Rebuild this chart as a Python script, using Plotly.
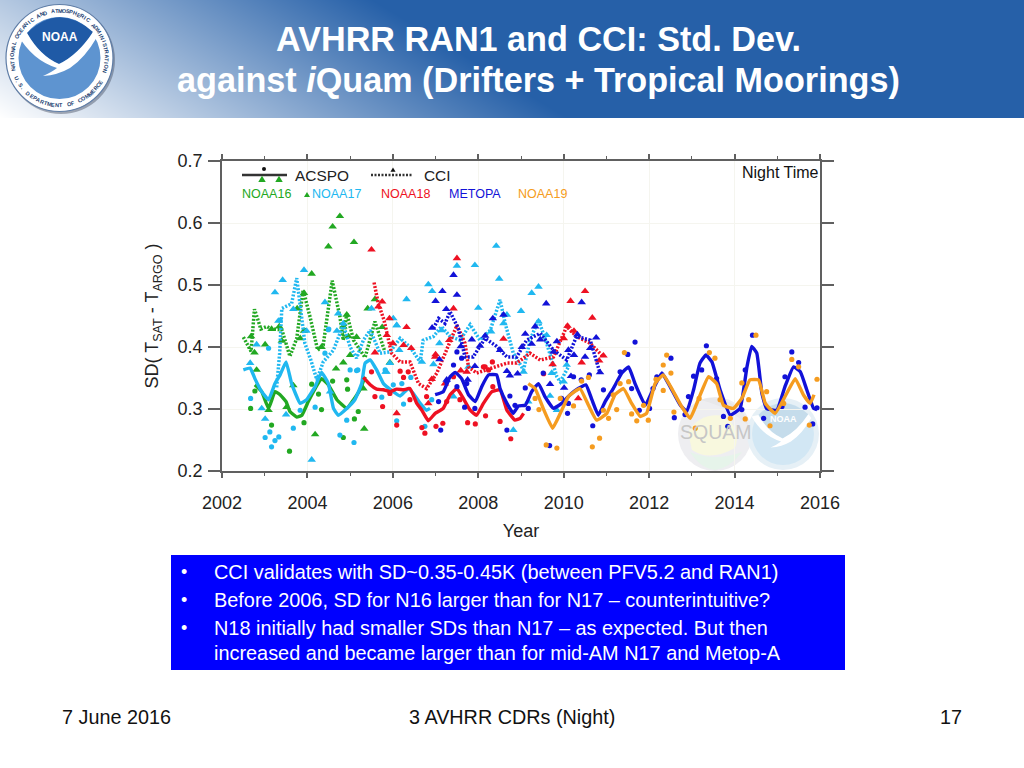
import math
import re
import plotly.graph_objects as go

# ---------- data ----------
N16_LINE_X = [2002.77,2002.93,2003.09,2003.24,2003.36,2003.50,2003.59,2003.75,2003.87,2004.02,2004.18,2004.33,2004.49,2004.69,2004.92,2005.08,2005.23,2005.35]
N16_LINE_Y = [.339,.328,.301,.328,.323,.312,.296,.287,.290,.312,.333,.349,.339,.315,.301,.315,.331,.352]
N17_LINE_X = [2002.50,2002.66,2002.77,2002.93,2003.09,2003.24,2003.36,2003.50,2003.63,2003.83,2003.98,2004.18,2004.33,2004.49,2004.61,2004.72,2004.92,2005.11,2005.27,2005.35,2005.47,2005.62,2005.78,2005.97,2006.17,2006.36,2006.48,2006.64,2006.79,2006.87]
N17_LINE_Y = [.363,.366,.349,.328,.315,.341,.355,.376,.341,.309,.315,.336,.359,.341,.301,.290,.301,.315,.341,.374,.379,.363,.341,.330,.321,.333,.325,.309,.298,.301]
N18_LINE_X = [2005.31,2005.47,2005.62,2005.78,2005.93,2006.09,2006.25,2006.40,2006.56,2006.68,2006.83,2006.99,2007.18,2007.34,2007.50,2007.65,2007.81,2007.96,2008.12,2008.32,2008.51,2008.67,2008.86,2008.98,2009.06]
N18_LINE_Y = [.351,.339,.332,.331,.328,.332,.331,.333,.309,.298,.281,.293,.301,.323,.333,.317,.298,.290,.309,.328,.331,.298,.282,.285,.293]
MTA_LINE_X = [2006.99,2007.18,2007.34,2007.46,2007.61,2007.77,2007.93,2008.08,2008.24,2008.43,2008.51,2008.67,2008.82,2008.94,2009.10,2009.25,2009.41,2009.56,2009.76,2009.95,2010.15,2010.34,2010.52,2010.66,2010.81,2010.97,2011.16,2011.36,2011.52,2011.67,2011.91,2012.10,2012.30,2012.49,2012.73,2012.88,2013.04,2013.19,2013.33,2013.47,2013.66,2013.90,2014.13,2014.29,2014.40,2014.52,2014.64,2014.75,2014.99,2015.18,2015.38,2015.54,2015.69,2015.85,2015.93]
MTA_LINE_Y = [.323,.328,.352,.359,.349,.323,.312,.336,.355,.355,.333,.309,.293,.305,.306,.328,.341,.320,.301,.309,.323,.333,.339,.315,.290,.312,.333,.358,.368,.341,.306,.333,.358,.336,.306,.296,.331,.374,.387,.376,.331,.290,.301,.368,.401,.390,.325,.301,.298,.336,.368,.360,.331,.301,.299]
N19_LINE_X = [2009.17,2009.33,2009.52,2009.74,2009.92,2010.11,2010.38,2010.58,2010.77,2011.01,2011.20,2011.40,2011.59,2011.79,2011.94,2012.14,2012.33,2012.53,2012.76,2012.96,2013.15,2013.39,2013.58,2013.74,2013.97,2014.17,2014.36,2014.56,2014.72,2014.95,2015.22,2015.42,2015.61,2015.77,2015.86]
N19_LINE_Y = [.341,.333,.301,.269,.293,.320,.333,.306,.282,.293,.323,.333,.309,.288,.293,.341,.355,.333,.304,.285,.315,.352,.341,.306,.301,.317,.347,.347,.309,.293,.325,.349,.323,.309,.323]

N16_CCI_X = [2002.50,2002.68,2002.76,2002.91,2003.05,2003.16,2003.40,2003.59,2003.75,2003.90,2004.06,2004.24,2004.37,2004.58,2004.76,2004.84,2004.92,2005.08,2005.35,2005.58,2005.80]
N16_CCI_Y = [.416,.393,.461,.429,.433,.429,.428,.385,.414,.492,.449,.395,.403,.507,.449,.411,.454,.411,.383,.441,.395]
N17_CCI_X = [2003.28,2003.35,2003.40,2003.63,2003.75,2003.82,2003.94,2004.08,2004.22,2004.37,2004.61,2004.84,2005.00,2005.15,2005.31,2005.47,2005.70,2005.93,2006.17,2006.40,2006.64,2006.71,2006.95,2007.14,2007.34,2007.57,2007.81,2008.04,2008.28,2008.51,2008.63,2008.82,2009.06,2009.21,2009.41,2009.60,2009.84,2009.92,2010.11]
N17_CCI_Y = [.335,.390,.462,.470,.511,.470,.406,.379,.347,.376,.395,.436,.400,.382,.411,.427,.390,.392,.414,.400,.376,.411,.417,.433,.417,.411,.436,.411,.427,.476,.438,.390,.363,.411,.444,.406,.352,.344,.368]
N18_CCI_X = [2005.56,2005.66,2005.79,2005.89,2005.97,2006.17,2006.40,2006.60,2006.79,2007.03,2007.34,2007.50,2007.69,2007.77,2007.96,2008.20,2008.43,2008.67,2008.90,2009.21,2009.45,2009.76,2010.07,2010.30,2010.62,2010.93]
N18_CCI_Y = [.504,.470,.444,.417,.390,.376,.376,.341,.333,.358,.411,.435,.406,.368,.358,.363,.368,.374,.374,.390,.379,.384,.433,.417,.406,.384]
MTA_CCI_X = [2006.95,2007.07,2007.22,2007.34,2007.53,2007.69,2007.88,2008.16,2008.43,2008.67,2008.90,2009.13,2009.45,2009.76,2010.07,2010.30,2010.62,2010.85]
MTA_CCI_Y = [.430,.446,.438,.457,.430,.384,.384,.414,.401,.384,.384,.411,.422,.395,.379,.417,.411,.358]

N16_TRI_X = [2004.49,2004.59,2004.76,2005.09,2004.10,2003.92,2003.76,2003.40,2003.16,2003.34,2003.01,2002.68,2005.41,2005.58,2005.75,2003.83,2003.92,2004.92,2004.84,2004.96,2005.15,2004.33,2002.76,2002.81,2003.09,2003.51,2003.67,2004.18,2004.67,2004.84,2005.33,2005.93,2005.00,2005.31]
N16_TRI_Y = [.562,.594,.611,.569,.518,.487,.462,.410,.429,.433,.404,.417,.462,.477,.432,.414,.426,.452,.433,.417,.416,.400,.391,.363,.298,.303,.338,.259,.365,.375,.268,.375,.387,.333]
N16_DOT_X = [2002.67,2002.77,2003.16,2003.58,2003.92,2004.33,2004.10,2004.26,2004.59,2004.92,2004.94,2005.10,2004.84,2005.19,2003.94]
N16_DOT_Y = [.301,.329,.274,.232,.278,.299,.340,.324,.345,.347,.332,.284,.254,.296,.427]
N17_TRI_X = [2003.92,2003.42,2003.24,2004.41,2004.72,2005.50,2006.32,2006.01,2006.09,2003.32,2003.67,2004.69,2004.84,2002.81,2003.98,2008.42,2007.92,2007.50,2008.49,2006.83,2006.92,2008.00,2009.41,2009.25,2009.00,2008.67,2008.59,2006.09,2008.30,2007.14,2007.09,2006.15,2006.68,2006.95,2005.93,2007.77,2009.06,2005.85,2009.60,2009.41,2010.07,2009.72,2010.00,2004.10,2003.01,2003.50,2004.53,2002.66,2002.93,2007.42,2005.83,2008.82,2009.68,2009.17,2009.84]
N17_TRI_Y = [.524,.508,.488,.472,.454,.462,.477,.446,.435,.442,.461,.426,.438,.404,.426,.563,.532,.531,.510,.501,.490,.463,.497,.487,.458,.452,.438,.435,.425,.427,.406,.395,.376,.372,.374,.368,.360,.360,.419,.441,.371,.358,.344,.218,.284,.291,.328,.374,.301,.320,.360,.266,.321,.312,.298]
N17_DOT_X = [2002.67,2003.09,2003.16,2003.01,2003.12,2003.33,2003.24,2003.67,2004.18,2004.76,2004.92,2005.09,2004.49,2004.41,2005.00,2005.15,2003.83,2006.25,2006.09,2006.42,2006.75,2006.91,2005.74,2005.82,2006.21,2004.50,2003.36,2005.18,2006.01]
N17_DOT_Y = [.317,.398,.239,.254,.263,.255,.249,.269,.303,.258,.282,.246,.428,.390,.363,.362,.298,.308,.281,.351,.272,.315,.319,.363,.341,.429,.443,.363,.339]
N18_TRI_X = [2005.50,2007.50,2005.75,2005.92,2006.32,2007.42,2010.50,2010.16,2010.67,2010.09,2010.24,2008.59,2007.32,2006.43,2006.25,2006.00,2005.58,2007.00,2010.93,2010.42,2009.74,2010.83,2010.00,2007.59,2006.91,2005.66,2005.86,2006.09,2006.83,2006.99,2007.22,2007.73,2010.34]
N18_TRI_Y = [.557,.543,.473,.446,.432,.462,.490,.474,.447,.434,.426,.413,.411,.398,.403,.406,.391,.388,.386,.375,.372,.378,.414,.362,.348,.465,.419,.293,.309,.384,.341,.360,.317]
N18_DOT_X = [2005.50,2005.76,2005.93,2006.17,2006.09,2006.40,2006.68,2006.75,2007.01,2007.17,2007.26,2006.36,2006.79,2007.75,2007.93,2008.17,2008.51,2008.34,2008.76,2007.42,2005.58,2007.57,2008.12,2008.24,2006.25,2008.16,2008.33,2009.53]
N18_DOT_Y = [.360,.304,.325,.361,.274,.315,.270,.261,.272,.277,.312,.360,.320,.278,.276,.289,.280,.336,.252,.352,.320,.315,.368,.363,.351,.368,.376,.357]
MTA_TRI_X = [2007.42,2007.50,2007.16,2007.00,2007.25,2009.59,2010.42,2008.34,2008.59,2006.92,2009.33,2009.10,2008.16,2007.85,2008.04,2007.59,2009.84,2010.11,2010.32,2010.76,2009.02,2008.51,2009.25,2010.50,2010.24,2009.45,2009.76,2007.92,2008.67,2008.74,2008.92,2010.17,2009.68,2010.01,2010.85,2010.62,2007.09,2007.26,2007.75]
MTA_TRI_Y = [.516,.484,.490,.474,.461,.470,.472,.446,.452,.431,.433,.421,.418,.412,.402,.401,.409,.395,.420,.415,.400,.395,.405,.384,.387,.412,.392,.369,.361,.354,.357,.353,.340,.334,.359,.398,.380,.347,.347]
MTA_DOT_X = [2007.07,2007.12,2007.50,2007.68,2007.92,2007.73,2008.67,2008.74,2007.42,2007.50,2007.61,2007.26,2011.67,2011.50,2012.51,2013.34,2014.42,2015.34,2015.50,2009.10,2009.67,2009.17,2010.09,2010.23,2010.41,2010.60,2010.68,2010.93,2011.32,2011.59,2012.01,2011.77,2012.18,2012.09,2012.59,2012.84,2013.04,2012.92,2013.23,2013.58,2013.74,2013.84,2014.25,2014.68,2015.11,2015.18,2015.65,2015.93,2015.83,2014.17,2009.52,2010.11,2008.86,2009.95]
MTA_DOT_Y = [.312,.266,.336,.303,.301,.341,.266,.321,.371,.392,.382,.344,.408,.388,.382,.402,.419,.392,.375,.334,.241,.301,.293,.352,.347,.355,.273,.331,.360,.333,.301,.298,.352,.333,.286,.291,.353,.320,.363,.349,.288,.272,.363,.285,.304,.352,.303,.302,.276,.299,.358,.309,.306,.317]
N19_DOT_X = [2011.42,2012.41,2012.33,2012.51,2012.16,2012.33,2013.41,2014.50,2015.34,2015.93,2010.84,2010.67,2009.59,2009.84,2009.42,2009.33,2009.92,2010.23,2010.42,2010.58,2010.93,2011.24,2011.52,2011.59,2011.71,2011.98,2011.87,2012.58,2013.08,2013.17,2013.54,2013.90,2014.25,2014.33,2014.17,2014.75,2014.83,2015.15,2015.50,2015.75,2013.66,2011.16,2011.32,2011.05]
N19_DOT_Y = [.391,.387,.371,.358,.348,.330,.391,.419,.380,.348,.253,.239,.242,.237,.299,.317,.317,.305,.345,.351,.298,.299,.344,.292,.281,.282,.306,.295,.269,.317,.382,.285,.284,.315,.342,.328,.273,.309,.368,.274,.315,.323,.341,.285]

TITLE_LINES = ["<b>AVHRR RAN1 and CCI: Std. Dev.</b>", "<b>against <i>i</i>Quam (Drifters + Tropical Moorings)</b>"]
BULLETS = ["CCI validates with SD~0.35-0.45K (between PFV5.2 and RAN1)",
           "Before 2006, SD for N16 larger than for N17 – counterintuitive?",
           "N18 initially had smaller SDs than N17 – as expected. But then",
           "increased and became larger than for mid-AM N17 and Metop-A"]
LEGEND_NAMES = ["NOAA16", "NOAA17", "NOAA18", "METOPA", "NOAA19"]

GREEN, CYAN, RED, BLUE, ORANGE = "#22a822", "#20b8f0", "#ee1122", "#1212d8", "#f59c20"
FONT = "Liberation Sans"
W, H = 1024, 768

# ---------- helpers: page pixels to paper fractions ----------
def fx(x): return x / W
def fy(y): return 1 - y / H

def pth(s, cx=0, cy=0, k=1.0, ox=0, oy=0):
    nums = iter(range(10**6))
    def rep(m):
        i = next(nums)
        v = float(m.group())
        if i % 2 == 0:
            return f"{fx((v - ox) * k + cx):.5f}"
        return f"{fy((v - oy) * k + cy):.5f}"
    return re.sub(r"-?\d+\.?\d*", rep, s)

shapes, notes = [], []

def path(s, fill, layer="above", opacity=1, line=None, **kw):
    shapes.append(dict(type="path", xref="paper", yref="paper", path=pth(s, **kw), fillcolor=fill,
                       line=dict(width=0 if line is None else 1, color=line or fill), layer=layer, opacity=opacity))

def circ(cx, cy, r, fill, layer="above", line=None, lw=1, opacity=1):
    shapes.append(dict(type="circle", xref="paper", yref="paper", x0=fx(cx - r), x1=fx(cx + r),
                       y0=fy(cy + r), y1=fy(cy - r), fillcolor=fill, layer=layer, opacity=opacity,
                       line=dict(width=lw if line else 0, color=line or fill)))

def rect(x0, y0, x1, y1, fill, layer="below"):
    shapes.append(dict(type="rect", xref="paper", yref="paper", x0=fx(x0), x1=fx(x1), y0=fy(y1), y1=fy(y0),
                       fillcolor=fill, line=dict(width=0), layer=layer))

def note(t, x, y, size, color="#111111", anchor="left", angle=0):
    notes.append(dict(text=t, x=fx(x), y=fy(y), xref="paper", yref="paper", showarrow=False,
                      xanchor=anchor, yanchor="middle", textangle=angle, borderpad=0,
                      font=dict(family=FONT, size=size, color=color)))

# ---------- figure traces ----------
fig = go.Figure()

def solid(x, y, c, n):
    fig.add_trace(go.Scatter(x=x, y=y, mode="lines", name=n, showlegend=False,
                             line=dict(color=c, width=3.4, shape="spline", smoothing=0.35)))
def dotted(x, y, c, n):
    fig.add_trace(go.Scatter(x=x, y=y, mode="lines", name=n, showlegend=False,
                             line=dict(color=c, width=3.5, dash="2px,1.6px")))
def tris(x, y, c, n):
    fig.add_trace(go.Scatter(x=x, y=y, mode="markers", name=n, showlegend=False,
                             marker=dict(symbol="triangle-up", size=7.5, color=c)))
def dots(x, y, c, n):
    fig.add_trace(go.Scatter(x=x, y=y, mode="markers", name=n, showlegend=False,
                             marker=dict(symbol="circle", size=5.2, color=c)))

dots(N16_DOT_X, N16_DOT_Y, GREEN, "NOAA16 ACSPO obs"); tris(N16_TRI_X, N16_TRI_Y, GREEN, "NOAA16 CCI obs")
dotted(N16_CCI_X, N16_CCI_Y, GREEN, "NOAA16 CCI"); solid(N16_LINE_X, N16_LINE_Y, GREEN, "NOAA16 ACSPO")
dots(N17_DOT_X, N17_DOT_Y, CYAN, "NOAA17 ACSPO obs"); tris(N17_TRI_X, N17_TRI_Y, CYAN, "NOAA17 CCI obs")
dotted(N17_CCI_X, N17_CCI_Y, CYAN, "NOAA17 CCI"); solid(N17_LINE_X, N17_LINE_Y, CYAN, "NOAA17 ACSPO")
dots(N18_DOT_X, N18_DOT_Y, RED, "NOAA18 ACSPO obs"); tris(N18_TRI_X, N18_TRI_Y, RED, "NOAA18 CCI obs")
dotted(N18_CCI_X, N18_CCI_Y, RED, "NOAA18 CCI"); solid(N18_LINE_X, N18_LINE_Y, RED, "NOAA18 ACSPO")
dots(MTA_DOT_X, MTA_DOT_Y, BLUE, "METOPA ACSPO obs"); tris(MTA_TRI_X, MTA_TRI_Y, BLUE, "METOPA CCI obs")
dotted(MTA_CCI_X, MTA_CCI_Y, BLUE, "METOPA CCI"); solid(MTA_LINE_X, MTA_LINE_Y, BLUE, "METOPA ACSPO")
dots(N19_DOT_X, N19_DOT_Y, ORANGE, "NOAA19 ACSPO obs"); solid(N19_LINE_X, N19_LINE_Y, ORANGE, "NOAA19 ACSPO")

# header gradient (diagonal), a 2x2 smoothed heatmap on hidden page axes
fig.add_trace(go.Heatmap(x=[0, 1024], y=[0, 118], z=[[195, 1219], [0, 1024]], zmin=0, zmax=568, zsmooth="best",
                         colorscale=[[0, "#ffffff"], [1, "#2660a8"]], showscale=False, hoverinfo="skip",
                         xaxis="x2", yaxis="y2"))

# ---------- NOAA logo (header) ----------
DARK_PATH = "M 27 33 Q 59 2 93 32 Q 78 55 59 64 Q 40 56 27 33 Z"
BIRD_PATH = "M 18 35 L 27 33 Q 40 56 59 64 Q 78 55 93 32 L 97 37 Q 85 58 70 68 Q 58 75 43 76 Q 52 72 57 68 Q 32 60 18 35 Z"
circ(61, 60, 54, "rgba(70,80,100,0.45)")
circ(59.5, 58, 53.5, "#ffffff", line="#5f7da6", lw=1.2)
circ(59.5, 58, 41, "#5e94d0")
path(DARK_PATH, "#1f5aa6")
path(BIRD_PATH, "#ffffff")
note("<b>NOAA</b>", 59.5, 37, 12, "#ffffff", "center")

def ring(text, a0, a1, top=True, r=47.3, cx=59.5, cy=58):
    n = len(text)
    for i, ch in enumerate(text):
        if ch == " ":
            continue
        a = a0 + (a1 - a0) * i / (n - 1)
        x = cx + r * math.cos(math.radians(a))
        y = cy - r * math.sin(math.radians(a))
        note(f"<b>{ch}</b>", x, y, 5.5, "#1c3f73", "center", (90 - a) if top else (270 - a))

ring("NATIONAL OCEANIC AND ATMOSPHERIC ADMINISTRATION", 194, -16, True)
ring("U.S. DEPARTMENT OF COMMERCE", 205, 330, False)

# ---------- watermarks under the data ----------
circ(715, 434, 37, "#eeeef1", layer="below")
path("M 688 432 Q 700 412 725 416 Q 742 430 735 448 Q 710 462 692 450 Z", "#f8f8de", layer="below")
path("M 690 452 Q 715 462 742 452 Q 730 468 715 470 Q 700 468 690 452 Z", "#e6f4ea", layer="below")
path("M 700 400 Q 715 394 735 405 Q 745 412 748 425 Q 725 405 700 400 Z", "#e8e8ea", layer="below")
note("SQUAM", 716, 432, 19.5, "#c6c6c6", "center")
circ(783, 434, 36, "#e6f0f6", layer="below")
circ(783, 434, 31, "#d2e7f4", layer="below")
path(DARK_PATH, "#c5dceb", layer="below", cx=783, cy=434, k=31/41, ox=59.5, oy=58)
path(BIRD_PATH, "#ffffff", layer="below", cx=783, cy=434, k=31/41, ox=59.5, oy=58)
note("<b>NOAA</b>", 783, 419, 9, "#ffffff", "center")

# ---------- hand-built chart key ----------
TRI = "M 0 -3 L 3 2 L -3 2 Z"
def tri(x, y, c, k=1.0):
    path(TRI, c, cx=x, cy=y, k=k)
shapes.append(dict(type="line", xref="paper", yref="paper", x0=fx(242), x1=fx(287), y0=fy(175), y1=fy(175),
                   line=dict(color="#333333", width=2.5), layer="above"))
circ(264, 169, 2, "#111111")
tri(262, 179.5, GREEN, 1.25); tri(279, 179.5, GREEN, 1.25)
note("ACSPO", 294, 176, 15.4, "#222222")
shapes.append(dict(type="line", xref="paper", yref="paper", x0=fx(371), x1=fx(413), y0=fy(175), y1=fy(175),
                   line=dict(color="#333333", width=2.5, dash="2px,1.5px"), layer="above"))
tri(393, 170, "#111111", 0.85)
note("CCI", 423, 176, 15.4, "#222222")
for name, xp, c in zip(LEGEND_NAMES, [241, 311, 380, 448, 517], [GREEN, CYAN, RED, BLUE, ORANGE]):
    note(name, xp, 194.5, 12.5, c)
tri(307, 195, GREEN, 1.0)
note("Night Time", 741, 172, 16, "#111111")

# ---------- page text ----------
note(TITLE_LINES[0], 538, 39, 34.2, "#ffffff", "center")
note(TITLE_LINES[1], 538, 80, 34.2, "#ffffff", "center")
rect(171, 555, 845, 670, "#0000ff")
for yy, t in zip([572, 600, 628, 653], BULLETS):
    note(t, 213, yy, 19.9, "#ffffff")
for yy in [572, 600, 628]:
    note("•", 184, yy, 18, "#ffffff", "center")
note("7 June 2016", 61, 717, 19.8, "#111111")
note("3 AVHRR CDRs (Night)", 512, 717, 19.8, "#111111", "center")
note("17", 951, 717, 19.8, "#111111", "center")

AX = "#606060"
fig.update_layout(
    template="none",
    width=W, height=H, autosize=False, margin=dict(l=0, r=0, t=0, b=0, pad=0, autoexpand=False),
    paper_bgcolor="white", plot_bgcolor="rgba(0,0,0,0)", showlegend=False,
    shapes=shapes, annotations=notes, font=dict(family=FONT, color="#222222"),
    xaxis=dict(domain=[fx(222), fx(820)], range=[2002, 2016], tick0=2002, dtick=2, ticks="outside", ticklen=5,
               tickwidth=1.5, tickcolor=AX, showline=True, linecolor=AX, linewidth=1.5, mirror="allticks",
               gridcolor="#f5f5ef", gridwidth=1, zeroline=False, ticklabelstandoff=10, automargin=False,
               tickfont=dict(size=18, color="#222222", family=FONT),
               minor=dict(dtick=1, ticks="outside", ticklen=3, tickcolor=AX, tickwidth=1.2, showgrid=False),
               title=dict(text="Year", font=dict(size=18, color="#222222", family=FONT), standoff=12)),
    yaxis=dict(domain=[fy(471), fy(161)], range=[0.2, 0.7], tick0=0.2, dtick=0.1, ticks="outside", ticklen=12,
               tickwidth=1.5, tickcolor=AX, showline=True, linecolor=AX, linewidth=1.5, mirror="allticks",
               gridcolor="#f5f5ef", gridwidth=1, zeroline=False, ticklabelstandoff=2, tickformat=".1f", automargin=False,
               tickfont=dict(size=18, color="#222222", family=FONT),
               title=dict(text="SD( T<sub>SAT</sub> - T<sub>ARGO</sub> )", font=dict(size=18, color="#222222", family=FONT), standoff=14)),
    xaxis2=dict(domain=[0, 1], range=[0, 1024], visible=False, anchor="y2", fixedrange=True, automargin=False),
    yaxis2=dict(domain=[fy(118), 1], range=[118, 0], visible=False, anchor="x2", fixedrange=True, automargin=False),
)

fig.write_html("out.html", config=dict(displayModeBar=False),
               post_script="document.body.style.margin='0';document.documentElement.style.overflow='hidden';")
